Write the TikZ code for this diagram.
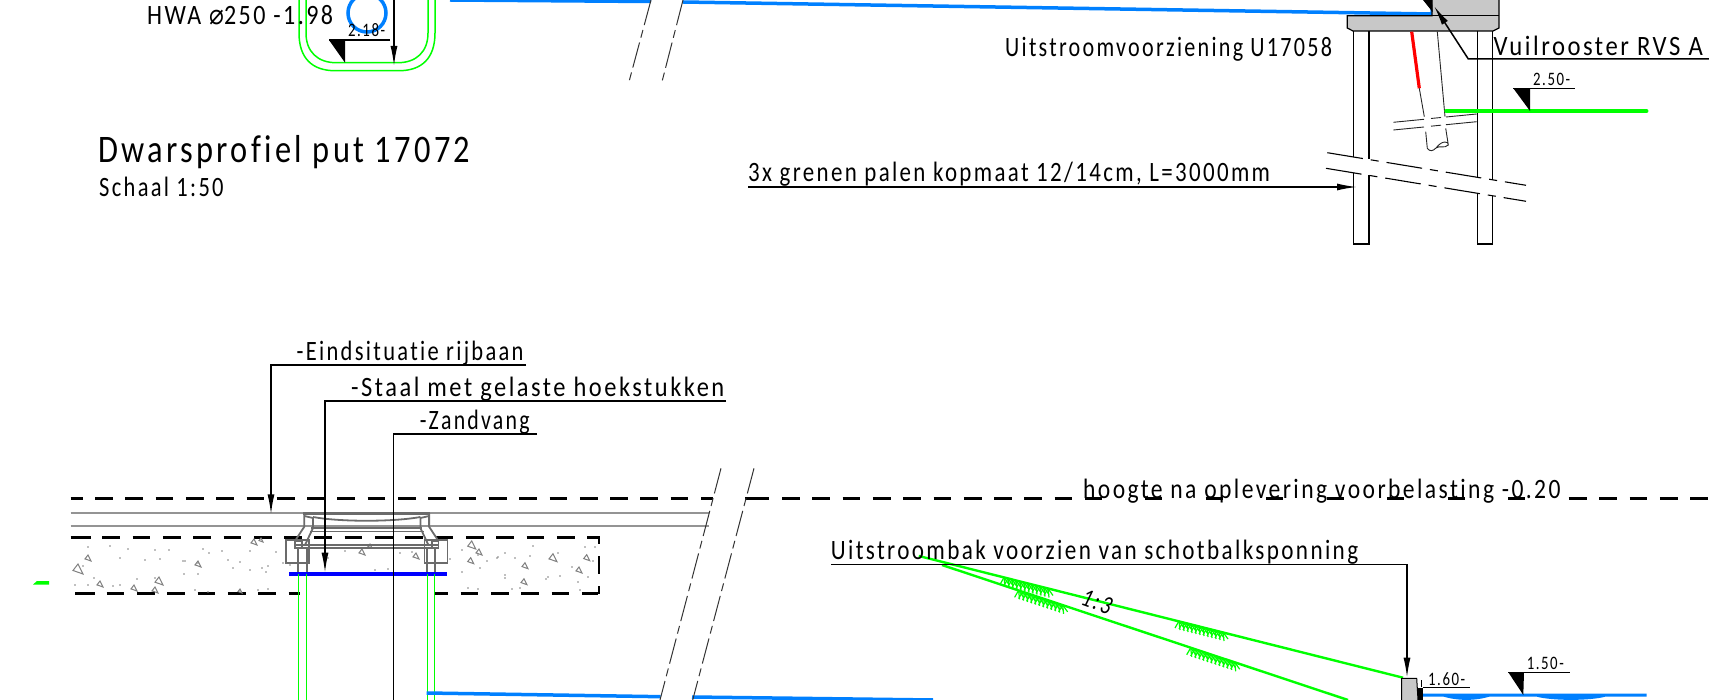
\documentclass[tikz,border=0pt]{standalone}
\usepackage{graphicx}
\usepackage{fontspec}
\setmainfont{Carlito}[LetterSpace=8,FakeStretch=0.78,Ligatures=NoCommon]
\newfontfamily\symfont{DejaVu Sans}[FakeStretch=0.8]
\usetikzlibrary{arrows.meta}
\definecolor{pipeblue}{HTML}{0080FF}
\definecolor{slabgrey}{HTML}{C8C8C8}
\tikzset{>={Latex[length=20pt,width=7pt]}}
\tikzset{
  cadtext/.style={anchor=base west, inner sep=0pt, font=\fontsize{28}{28}\selectfont},
  cadsmall/.style={anchor=base west, inner sep=0pt, font=\fontsize{19}{19}\selectfont},
  leader/.style={draw=black, line width=1.5pt},
  ground/.style={draw=green, line width=1.5pt},
  water/.style={draw=pipeblue, line width=3.5pt},
  breakline/.style={draw=black!80, line width=1pt, dash pattern=on 26pt off 5pt on 8pt off 5pt},
  pilebreak/.style={draw=black, line width=1.1pt, dash pattern=on 36pt off 8pt on 8pt off 8pt},
  roadlevel/.style={draw=black, line width=2.8pt, dash pattern=on 17.7pt off 12.6pt},
  solidlevel/.style={draw=black, line width=2.8pt},
  asphalt/.style={draw=black!42, line width=2pt},
  frame/.style={draw=black!58, line width=1.8pt},
  level/.style={fill=black, draw=none},
  pile/.style={draw=black, line width=1.5pt},
  pipeedge/.style={draw=black!85, line width=0.9pt},
}
\newcommand{\wider}[2]{\scalebox{#1}[1]{#2}}
\newcommand{\grasspatch}[3]{
  \foreach \s in {-22,-18,...,23}{
    \draw[draw=green, line width=1.2pt] (#1+\s,#2+\s*#3) -- ++(-4,7);
    \draw[draw=green, line width=1.2pt] (#1+\s,#2+\s*#3) -- ++(1,9);
    \draw[draw=green, line width=1.2pt] (#1+\s,#2+\s*#3) -- ++(5,7);
  }
}
\begin{document}
\begin{tikzpicture}[x=1pt,y=-1pt]
\useasboundingbox (0,0) rectangle (1709,700);
% top left: manhole section
\draw[ground] (299,0) -- (299,33) .. controls (299,58) and (312,70.7) .. (335,70.7) -- (399,70.7) .. controls (422,70.7) and (435,58) .. (435,33) -- (435,0);
\draw[ground] (306,0) -- (306,33) .. controls (306,52) and (318,62.7) .. (336,62.7) -- (398,62.7) .. controls (416,62.7) and (428,52) .. (428,33) -- (428,0);
\draw[draw=pipeblue, line width=3.5pt] (367,13) circle[radius=19];
\node[cadtext] (hwa) at (147,25) {\wider{1.1}{HWA {\symfont ⌀}250 -1.98}};
\node[cadsmall] (lvlA) at (348,36.7) {2.18-};
\coordinate (lvlAa) at (329,40);
\coordinate (lvlAb) at (390,40);
\draw[leader] (lvlAa) -- (lvlAb);
\fill[level] (lvlAa) -- (345,40) -- (345,62.7) -- cycle;
\coordinate (drop) at (394,0);
\draw[leader,->] (drop) -- (394,66);
% top pipe and break
\draw[water] (450,0) -- (651,1.5);
\draw[water] (683,2) -- (1432,14) -- (1432,0);
\draw[breakline] (651,0) -- (629,81.7);
\draw[breakline] (683,0) -- (662,81.7);
% outflow structure
\filldraw[fill=slabgrey,draw=black,line width=1.2pt] (1432,0) -- (1432,15.7) -- (1347.3,15.7) -- (1347.3,28) -- (1353,31) -- (1493,31) -- (1499,28) -- (1499,0);
\draw[black,line width=1.2pt] (1432,15.7) -- (1499,15.7);
\foreach \xa/\xb/\ya/\yb in {1353.3/1369/157/159,1477.3/1492.7/178/180}{
  \draw[pile] (\xa,31) -- (\xa,\ya);
  \draw[pile] (\xb,31) -- (\xb,\yb);
}
\draw[pile] (1353.3,173) -- (1353.3,244) -- (1369,244) -- (1369,175);
\draw[pile] (1477.3,193) -- (1477.3,244) -- (1492.7,244) -- (1492.7,196);
\draw[pilebreak] (1327.3,152.7) -- (1526,185.3);
\draw[pilebreak] (1326,168.3) -- (1526,201.3);
\draw[draw=red,line width=3.2pt] (1411.7,31.7) -- (1419.3,88.3);
\draw[pipeedge] (1419.3,88.3) -- (1424.3,116.7) (1425.7,131.7) -- (1427.3,148.3) .. controls (1430,152) and (1433,151) .. (1436,148) .. controls (1440,145) and (1444,149) .. (1448.3,145) .. controls (1449,141) and (1442,140) .. (1436,148) (1437.3,31.7) -- (1445,116.7) (1445.7,128.3) -- (1448.3,145);
\draw[pipeedge] (1393.3,122.3) -- (1424,119.3) (1431,118.5) -- (1441,117.5) (1446,117) -- (1476.7,114);
\draw[pipeedge] (1393.3,130) -- (1424,127) (1431,126.2) -- (1441,125.2) (1446,124.7) -- (1476.7,121.7);
\draw[draw=green,line width=3.5pt,line cap=round] (1446,111) -- (1646.7,111);
\node[cadsmall] (lvlB) at (1533,85.7) {2.50-};
\coordinate (lvlBa) at (1513.3,88.3);
\coordinate (lvlBb) at (1575,88.3);
\draw[leader] (lvlBa) -- (lvlBb);
\fill[level] (lvlBa) -- (1530,88.3) -- (1530,111) -- cycle;
% labels at the top
\node[cadtext] (vuil) at (1493.3,55.7) {\wider{1.13}{Vuilrooster RVS A}};
\coordinate (vuilr) at (1709,59);
\coordinate (vuilm) at (1468.3,59);
\draw[leader,->] (vuilr) -- (vuilm) -- (1434,6);
\fill[level] (1423,0) -- (1432,0) -- (1432.6,12) -- cycle;
\node[cadtext] (uit) at (1005,57) {\wider{1.013}{Uitstroomvoorziening U17058}};
\node[cadtext] (palen) at (748,182) {\wider{1.05}{3x grenen palen kopmaat 12/14cm, L=3000mm}};
\coordinate (palenl) at (748,187);
\coordinate (palenr) at (1357,187);
\draw[leader,->] (palenl) -- (palenr);
\node[anchor=base west,inner sep=0pt,font=\fontsize{39}{39}\selectfont] (title) at (98,162.3) {\wider{1.065}{Dwarsprofiel put 17072}};
\node[cadtext] (schaal) at (99,196.7) {\wider{1.03}{Schaal 1:50}};
% lower section: levels
\draw[solidlevel] (70.7,498.3) -- (83.3,498.3);
\draw[roadlevel] (95,498.3) -- (713,498.3);
\draw[solidlevel] (745,498.3) -- (769,498.3);
\draw[roadlevel] (782,498.3) -- (1072,498.3);
\draw[solidlevel,dash pattern=on 17pt off 43.5pt] (1084.5,498.3) -- (1570,498.3);
\draw[roadlevel] (1569,498.3) -- (1709,498.3);
\node[cadtext] (hoogte) at (1083,498.5) {\wider{1.08}{hoogte na oplevering voorbelasting -0.20}};
\draw[asphalt] (70.7,513.3) -- (709,513.3);
\draw[asphalt] (70.7,525.7) -- (709,525.7);
\draw[solidlevel] (70.7,537.7) -- (90.7,537.7);
\draw[roadlevel] (102.3,537.7) -- (599,537.7) -- (599,594);
\draw[solidlevel] (75,593.7) -- (95,593.7);
\draw[roadlevel] (106.7,593.7) -- (300,593.7);
\draw[solidlevel] (435,593.7) -- (448,593.7);
\draw[roadlevel] (460.7,593.7) -- (598,593.7);
% concrete
\foreach \x/\y in {88/547,110/546,128/549,155/550,169/550,203/549,209/553,222/551,250/551,276/552,345/551,371/548,400/553,412/552,462/550,478/555,505/553,83/566,120/558,145/560,160/559,185/561,198/563,228/560,240/562,283/563,290/565,328/558,375/570,388/569,450/559,487/561,498/557,497/558,515/558,530/556,533/546,558/553,585/547,595/547,593/561,588/577,75/585,88/585,94/578,113/586,120/585,137/579,155/578,183/561,184/574,198/574,262/568,266/572,233/568,250/570,268/566,462/572,480/568,505/578,512/589,520/588,560/576,578/582,195/590,208/592,240/590,258/590,268/589,468/588,478/589,580/590,546/579,548/577,505/575,572/567}
  \fill[black!50] (\x,\y) circle[radius=0.8];
\foreach \x/\y/\r in {78/569/5,88/558/3,100/584/3,134/588/3,159/581/4,155/590/3,198/564/3,254/542/3,261/540/2,362/552/3,370/546/2,416/556/3,471.7/545/4,479/552/3,470.7/560.7/3,553/557.7/4,525/565.7/3,524/581.7/3,579/570/3,586.7/557.7/3,240/591/2}
  \draw[draw=black!50,line width=1pt] (\x,\y-\r) -- (\x+\r,\y+\r) -- (\x-\r,\y+\r*0.3) -- cycle;
\fill[green] (33,584.5) -- (37,581) -- (49,581) -- (49,584.5) -- cycle;
% manhole frame
\foreach \s/\o in {1/0,-1/733.4}{
  \begin{scope}[xshift=\o pt,xscale=\s]
    \draw[frame] (304.3,513) -- (304.3,526.7) -- (296.7,538.3) -- (295,541.7);
    \draw[frame] (313,517) -- (313,528) -- (305,545);
    \draw[frame] (304.3,516) -- (313,518);
    \draw[frame] (286,540) rectangle (309,563.3);
    \draw[frame] (295,541) rectangle (301.7,547.7);
    \draw[frame] (298.3,548) -- (298.3,574);
    \draw[frame] (306.7,548) -- (306.7,574);
  \end{scope}
}
\draw[frame,line width=2.4pt] (303.3,513.3) -- (430,513.3);
\draw[frame] (313,517) .. controls (340,522) and (393,522) .. (420.4,517);
\draw[frame,line width=1.2pt] (311,528) -- (422,528);
\draw[frame,line width=1.2pt] (309.5,531.7) -- (424,531.7);
\draw[frame] (295,545) -- (438,545);
\draw[frame,line width=1.2pt] (295,548) -- (438,548);
\draw[draw=blue,line width=4pt] (289,574) -- (446.7,574);
\foreach \x in {298.7,306.3,427.3,434.7}
  \draw[draw=green,line width=1.5pt] (\x,574) -- (\x,700);
% pipe and break
\draw[water] (426.7,693) -- (660.7,696.7);
\draw[water] (692,697) -- (933,700);
\draw[breakline] (721,468.3) -- (660,700);
\draw[breakline] (754,468.3) -- (692.7,700);
% leaders of the section
\node[cadtext] (eind) at (296.5,361) {\wider{1.03}{-Eindsituatie rijbaan}};
\coordinate (eindr) at (526,365);
\coordinate (eindm) at (271,365);
\draw[leader,->] (eindr) -- (eindm) -- (271,514.3);
\node[cadtext] (staal) at (351,397) {\wider{1.12}{-Staal met gelaste hoekstukken}};
\coordinate (staalr) at (726,401);
\coordinate (staalm) at (325,401);
\draw[leader,->] (staalr) -- (staalm) -- (325,572.7);
\node[cadtext] (zand) at (419.6,430) {-Zandvang};
\coordinate (zandr) at (537,434);
\coordinate (zandm) at (393.3,434);
\draw[leader] (zandr) -- (zandm) -- (393.3,700);
% outflow box and slope
\draw[draw=green,line width=2.4pt] (918.8,556) -- (1403,677.7);
\draw[draw=green,line width=2.4pt] (942,565) -- (1348,700);
\grasspatch{1026}{583}{0.25}
\grasspatch{1040.6}{597.6}{0.33}
\grasspatch{1201}{626.5}{0.25}
\grasspatch{1212.7}{655}{0.33}
\node[inner sep=0pt,rotate=-20,font=\fontsize{26}{26}\selectfont\itshape] (slope) at (1097,601.7) {1:3};
\node[cadtext] (bak) at (830.7,559) {\wider{1.06}{Uitstroombak voorzien van schotbalksponning}};
\coordinate (bakl) at (831,564.3);
\coordinate (bakm) at (1407,564.3);
\draw[leader,->] (bakl) -- (bakm) -- (1407,677.7);
\filldraw[fill=slabgrey,draw=black,line width=1pt] (1401.7,700) -- (1401.7,678.3) -- (1416.7,678.3) -- (1418,700);
\fill[black] (1418,688) rectangle (1423,700);
\draw[draw=black,line width=0.8pt] (1421,680) -- (1421,687);
\fill[pipeblue] (1423,693.5) -- (1646.7,693.5) -- (1646.7,696.5) -- (1606,696.5) .. controls (1590,701) and (1552,701) .. (1536,696.5) -- (1490,696.5) .. controls (1475,701) and (1458,701) .. (1443,696.5) -- (1423,696.5) -- cycle;
\node[cadsmall] (lvlC) at (1428,685) {1.60-};
\coordinate (lvlCa) at (1423,687.7);
\coordinate (lvlCb) at (1470,687.7);
\draw[leader] (lvlCa) -- (lvlCb);
\node[cadsmall] (lvlD) at (1526.7,669) {1.50-};
\coordinate (lvlDa) at (1508.3,672.3);
\coordinate (lvlDb) at (1570,672.3);
\draw[leader] (lvlDa) -- (lvlDb);
\fill[level] (lvlDa) -- (1524,672.3) -- (1523.3,695) -- cycle;
\end{tikzpicture}
\end{document}
